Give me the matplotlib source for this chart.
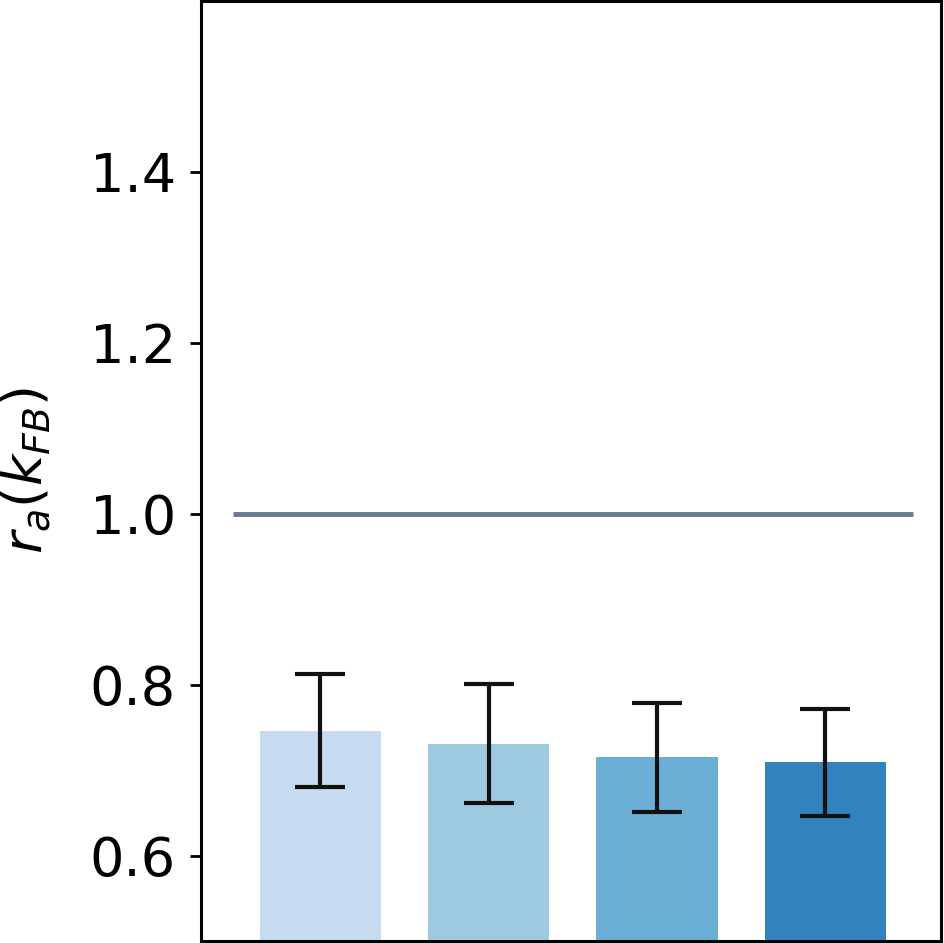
import numpy as np
import matplotlib.pyplot as plt

# bar heights and symmetric error half-widths
means = [0.746, 0.731, 0.715, 0.709]
errors = [0.066, 0.070, 0.064, 0.063]
colors = ['#c6dbef', '#9ecae1', '#6baed6', '#3182bd']
ref_value = 1.0
yticks = [0.6, 0.8, 1.0, 1.2, 1.4]

fig = plt.figure(figsize=(9.45, 9.43), dpi=100)
ax = fig.add_axes([201 / 945, 1 - 941 / 943, (941.5 - 201) / 945, 940 / 943])

x = np.arange(len(means))
ax.bar(x, means, width=0.72, color=colors, yerr=errors, capsize=18,
       error_kw=dict(elinewidth=3, capthick=3, ecolor='#111111'))
ax.hlines(ref_value, -0.52, len(means) - 1 + 0.52, color='#6b7b8c', linewidth=3.5)

ax.set_xlim(-0.71, 3.69)
ax.set_ylim(0.5, 1.6)
ax.set_xticks([])
ax.set_yticks(yticks)
ax.set_yticklabels([f'{v:.1f}' for v in yticks])
ax.tick_params(axis='y', labelsize=39, length=8, width=2, pad=10)
for s in ax.spines.values():
    s.set_linewidth(2.2)
ax.set_ylabel(r'$r_a(k_{FB})$', fontsize=39)
ax.yaxis.set_label_coords(-0.2, 0.5)

fig.savefig('out.png', dpi=100)
